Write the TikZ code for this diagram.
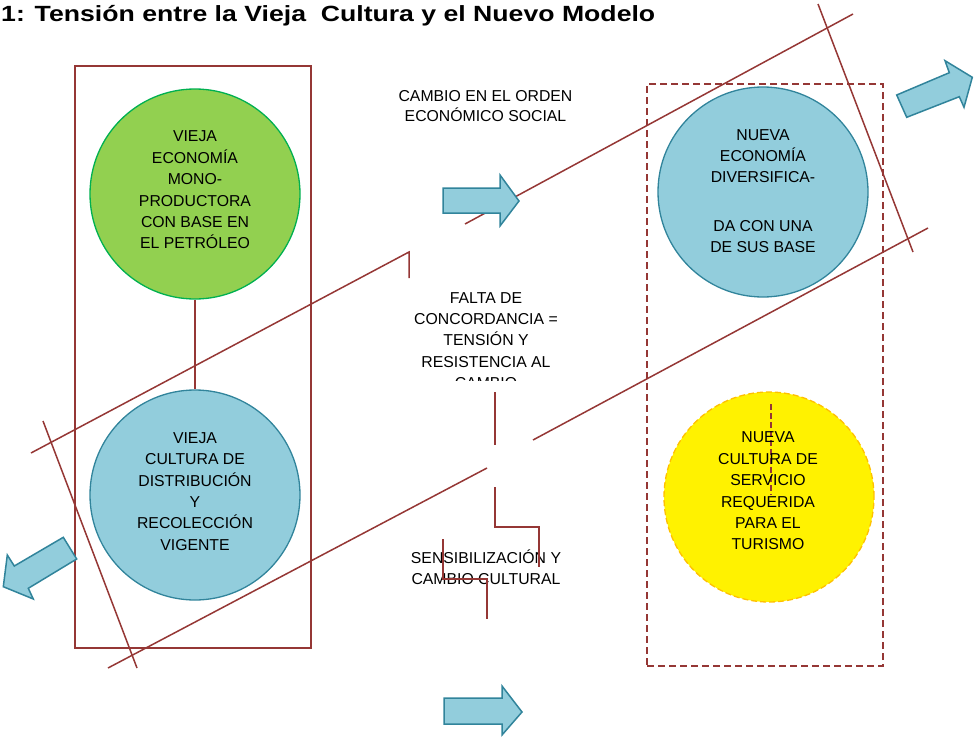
\documentclass[tikz,border=0pt]{standalone}
\usepackage{fontspec}
\setmainfont{Liberation Sans}
\usepackage{graphicx}
\definecolor{rl}{HTML}{953735}
\definecolor{gfill}{HTML}{92D050}
\definecolor{gdraw}{HTML}{00B050}
\definecolor{bfill}{HTML}{92CDDC}
\definecolor{bdraw}{HTML}{31849B}
\definecolor{ydraw}{HTML}{FFC000}
\begin{document}
\begin{tikzpicture}[x=1pt,y=-1pt,
  circ/.style={circle, minimum size=210pt, inner sep=0pt, line width=1.3pt},
  lbl/.style={align=center, inner sep=0pt, font=\fontsize{15.8}{21.4}\selectfont},
  redline/.style={draw=rl, line width=1.5pt},
  barrow/.style={fill=bfill, draw=bdraw, line width=1.5pt, line join=miter},
  boxA/.style={draw=rl, line width=1.5pt, minimum width=236pt, minimum height=582pt, inner sep=0pt}
]
\useasboundingbox (0,0) rectangle (974,736);

% title
\node[anchor=base west, inner sep=0pt, font=\bfseries\fontsize{22}{26}\selectfont] (title) at (1,21.7)
  {\resizebox{654pt}{\height}{1: Tensión entre la Vieja\ \ Cultura y el Nuevo Modelo}};

% boxes
\node[boxA] (leftbox) at (193,357) {};
\node[boxA, dash pattern=on 7pt off 4pt] (rightbox) at (765,375) {};

% circles
\node[circ, fill=gfill, draw=gdraw] (green) at (195,194) {};
\node[circ, fill=bfill, draw=bdraw] (blueL) at (195,495) {};
\node[circ, fill=bfill, draw=bdraw] (blueR) at (763,192) {};
\node[circ, fill=yellow, draw=ydraw, dash pattern=on 6pt off 3pt] (yel) at (769,497) {};

\draw[redline] (green.south) -- (blueL.north);
\draw[redline, dash pattern=on 6pt off 3pt] (771,404) -- (771,495);

% circle texts
\node[lbl] (tgreen) at (195,190) {VIEJA\\ECONOMÍA\\MONO-\\PRODUCTORA\\CON BASE EN\\EL PETRÓLEO};
\node[lbl] (tblueL) at (195,491.5) {VIEJA\\CULTURA DE\\DISTRIBUCIÓN\\Y\\RECOLECCIÓN\\VIGENTE};
\node[lbl] (tblueR) at (763,191) {NUEVA\\ECONOMÍA\\DIVERSIFICA-\\[27pt]DA CON UNA\\DE SUS BASE};
\node[lbl] (tyel) at (768,491) {NUEVA\\CULTURA DE\\SERVICIO\\REQUERIDA\\PARA EL\\TURISMO};

% middle texts
\node[lbl, font=\fontsize{15.8}{20}\selectfont] (cambio) at (485.5,106) {CAMBIO EN EL ORDEN\\ECONÓMICO SOCIAL};
\begin{scope}
  \clip (395,280) rectangle (580,380);
  \node[lbl] (falta) at (486,340.5) {FALTA DE\\CONCORDANCIA =\\TENSIÓN Y\\RESISTENCIA AL\\CAMBIO};
\end{scope}
\node[lbl] (sensib) at (486,567.5) {SENSIBILIZACIÓN Y\\CAMBIO CULTURAL};

% red lines
\draw[redline] (465,224) -- (853,14);
\draw[redline] (818,4) -- (913,252);
\draw[redline] (533,440) -- (928,228);
\draw[redline] (31,453) -- (409,252) -- (409,278);
\draw[redline] (108,668) -- (487,468);
\draw[redline] (43,421) -- (137,668);
\draw[redline] (495,392) -- (495,445);
\draw[redline] (495,487) -- (495,527) -- (539,527) -- (539,567);
\draw[redline] (443,539) -- (443,579) -- (487,579) -- (487,619);

% block arrows
\draw[barrow] (443,188) -- (500,188) -- (500,175) -- (519,201) -- (500,226) -- (500,213) -- (443,213) -- cycle;
\draw[barrow] (444,698) -- (502,698) -- (502,686) -- (522,712) -- (502,735) -- (502,724) -- (444,724) -- cycle;
\draw[barrow] (896.7,95) -- (949.3,72.7) -- (945,60.7) -- (972.3,77.3) -- (964,107.3) -- (959.3,96.7) -- (906.7,117.3) -- cycle;
\draw[barrow] (63.3,537.3) -- (76.7,559) -- (28.3,588.3) -- (33.3,599) -- (3.3,586.7) -- (7.3,555) -- (14.3,566) -- cycle;
\end{tikzpicture}
\end{document}
